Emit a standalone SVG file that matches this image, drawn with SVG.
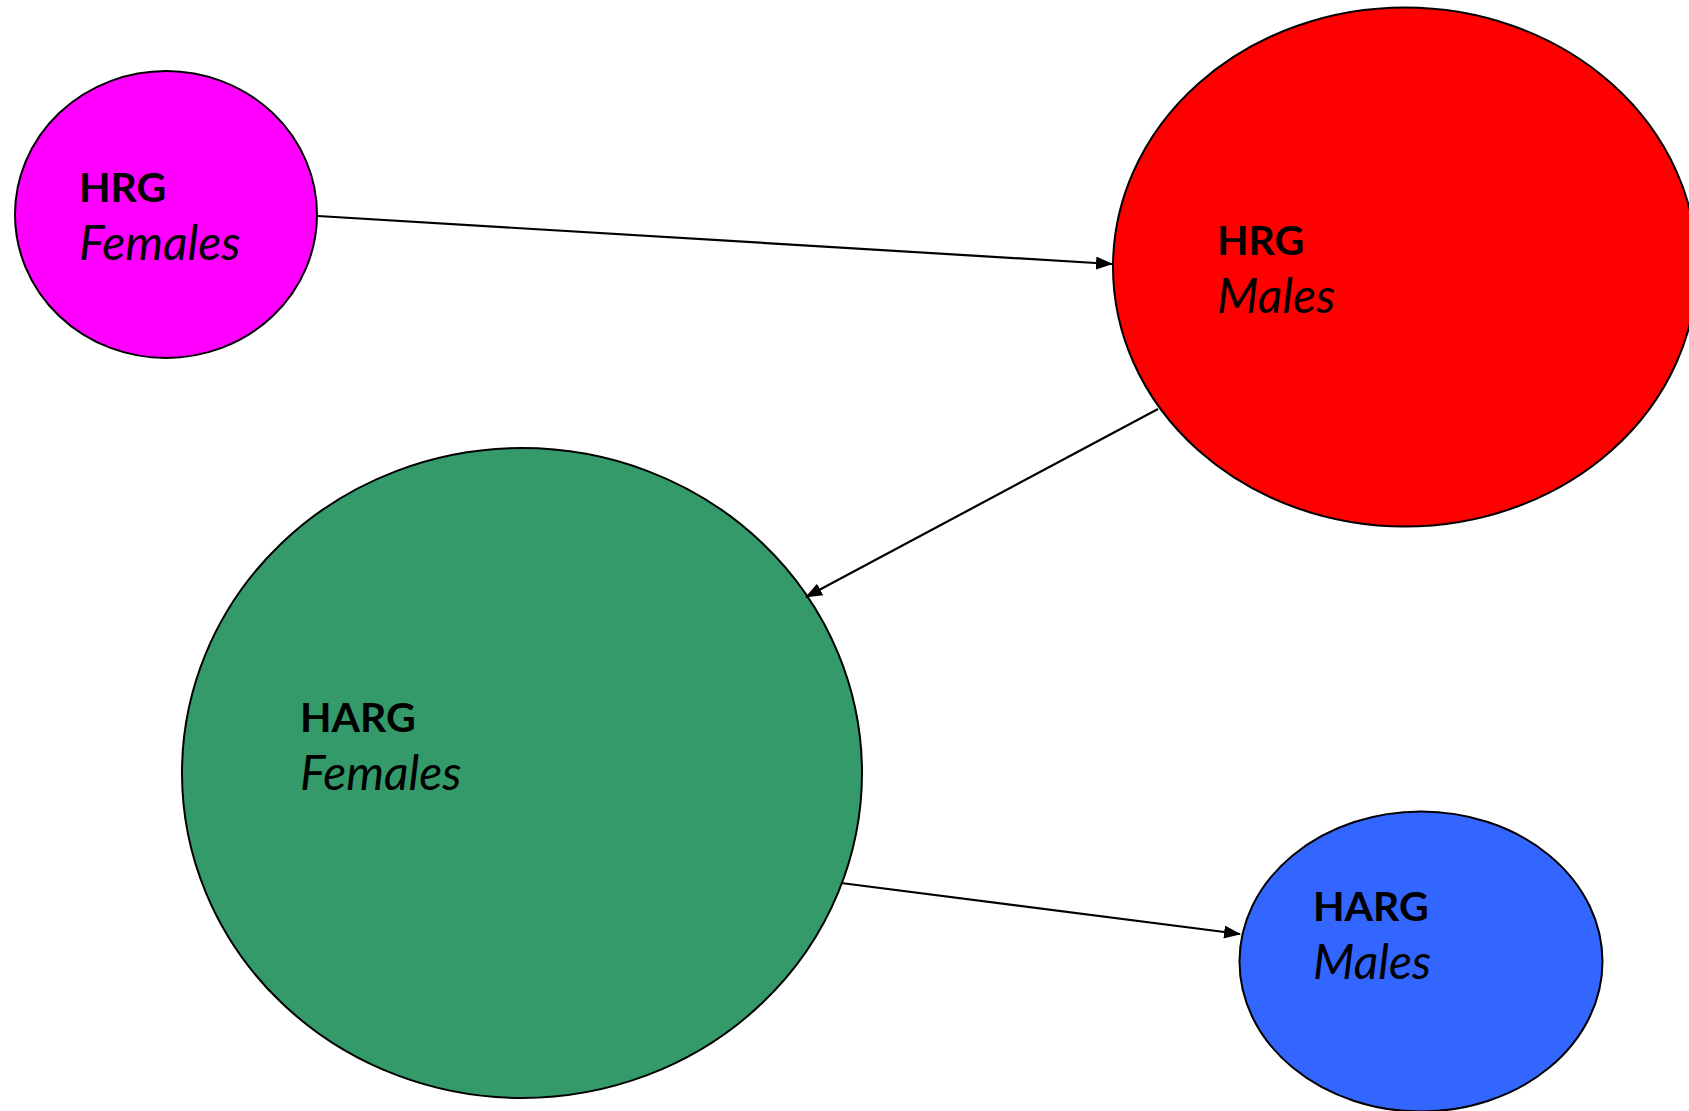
<svg xmlns="http://www.w3.org/2000/svg" width="1689" height="1111" viewBox="0 0 1689 1111">
<style>
.node{stroke:#000;stroke-width:2}
.b{font-family:Lato,"Liberation Sans",sans-serif;font-weight:bold;font-size:41px;fill:#000}
.i{font-family:Lato,"Liberation Sans",sans-serif;font-style:italic;font-size:48px;fill:#000}
.edge{stroke:#000;stroke-width:2.2;fill:none;marker-end:url(#arr)}
</style>
<defs>
<marker id="arr" markerWidth="17" markerHeight="13" refX="16" refY="6.5" orient="auto" markerUnits="userSpaceOnUse">
<path d="M0,0 L17,6.5 L0,13 Z" fill="#000"/>
</marker>
</defs>
<rect width="1689" height="1111" fill="#fff"/>
<g id="hrg-females">
<ellipse class="node" cx="166" cy="214.5" rx="151" ry="143.5" fill="#FF00FF"/>
<text class="b" x="79" y="202">HRG</text>
<text class="i" x="79" y="260">Females</text>
</g>
<g id="hrg-males">
<ellipse class="node" cx="1405" cy="267" rx="292" ry="259.5" fill="#FF0000"/>
<text class="b" x="1217" y="255">HRG</text>
<text class="i" x="1217" y="313">Males</text>
</g>
<g id="harg-females">
<ellipse class="node" cx="522" cy="773" rx="340" ry="325" fill="#349A6A"/>
<text class="b" x="300" y="732">HARG</text>
<text class="i" x="300" y="790">Females</text>
</g>
<g id="harg-males">
<ellipse class="node" cx="1421" cy="961.5" rx="181.5" ry="150" fill="#3366FF"/>
<text class="b" x="1313" y="921">HARG</text>
<text class="i" x="1313" y="979">Males</text>
</g>
<g id="connectors">
<line class="edge" x1="318" y1="216" x2="1112" y2="264"/>
<line class="edge" x1="1158" y1="409" x2="806" y2="597"/>
<line class="edge" x1="841" y1="883" x2="1240" y2="934"/>
</g>
</svg>
